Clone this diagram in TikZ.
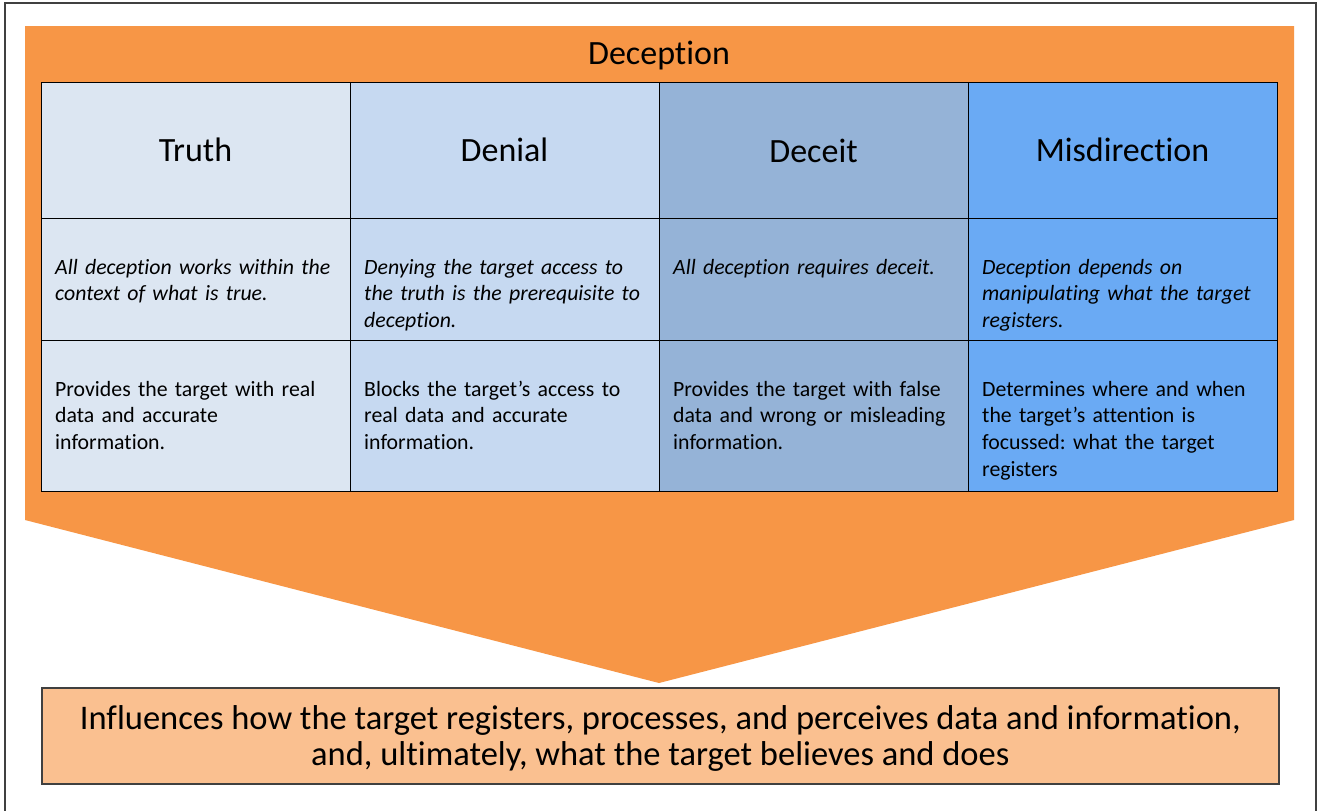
\documentclass[tikz,border=0pt]{standalone}
\usepackage{fontspec}
\setmainfont{Carlito}[Ligatures=NoCommon]
\definecolor{orangeA}{HTML}{F79646}
\definecolor{orangeB}{HTML}{FAC090}
\definecolor{cTruth}{HTML}{DCE6F2}
\definecolor{cDenial}{HTML}{C6D9F1}
\definecolor{cDeceit}{HTML}{95B3D7}
\definecolor{cMis}{HTML}{6AAAF4}
\definecolor{frameC}{HTML}{404040}
\begin{document}
\begin{tikzpicture}[x=1pt,y=-1pt,
  cell/.style={draw=black,line width=1pt,anchor=north west,minimum width=309pt,inner sep=0pt,outer sep=0pt},
  headtxt/.style={font=\fontsize{34}{40}\selectfont,inner sep=0pt},
  bodytxt/.style={anchor=base west,inner sep=0pt,text width=300pt,align=left,font=\fontsize{21.8}{26.8}\selectfont},
  quotetxt/.style={bodytxt,font=\fontsize{21.8}{26.8}\selectfont\itshape}]
\useasboundingbox (0,0) rectangle (1317,811);
\fill[white] (0,0) rectangle (1317,811);
% outer frame
\draw[frameC,line width=2pt] (4.5,811) -- (4.5,2.5) -- (1315.5,2.5) -- (1315.5,811);
% orange arrow
\fill[orangeA] (25,26) -- (1294,26) -- (1294,520) -- (659,683) -- (25,520) -- cycle;
\node[font=\fontsize{34}{40}\selectfont,inner sep=0pt] (title) at (659,56) {Deception};
% header row
\node[cell,fill=cTruth,minimum height=136pt] (h1) at (41,82) {};
\node[cell,fill=cDenial,minimum height=136pt] (h2) at (350,82) {};
\node[cell,fill=cDeceit,minimum height=136pt] (h3) at (659,82) {};
\node[cell,fill=cMis,minimum height=136pt] (h4) at (968,82) {};
\node[headtxt] at (h1.center) {Truth};
\node[headtxt] at (h2.center) {Denial};
\node[headtxt] at ([yshift=-1pt]h3.center) {Deceit};
\node[headtxt] at (h4.center) {Misdirection};
% middle row
\node[cell,fill=cTruth,minimum height=122pt] (m1) at (41,218) {};
\node[cell,fill=cDenial,minimum height=122pt] (m2) at (350,218) {};
\node[cell,fill=cDeceit,minimum height=122pt] (m3) at (659,218) {};
\node[cell,fill=cMis,minimum height=122pt] (m4) at (968,218) {};
\node[quotetxt] at (55,274) {All deception works within the\\context of what is true.};
\node[quotetxt] at (364,274) {Denying the target access to\\the truth is the prerequisite to\\deception.};
\node[quotetxt] at (673,274) {All deception requires deceit.};
\node[quotetxt] at (982,274) {Deception depends on\\manipulating what the target\\registers.};
% bottom row
\node[cell,fill=cTruth,minimum height=151pt] (b1) at (41,340) {};
\node[cell,fill=cDenial,minimum height=151pt] (b2) at (350,340) {};
\node[cell,fill=cDeceit,minimum height=151pt] (b3) at (659,340) {};
\node[cell,fill=cMis,minimum height=151pt] (b4) at (968,340) {};
\node[bodytxt] at (55,396) {Provides the target with real\\data and accurate\\information.};
\node[bodytxt] at (364,396) {Blocks the target’s access to\\real data and accurate\\information.};
\node[bodytxt] at (673,396) {Provides the target with false\\data and wrong or misleading\\information.};
\node[bodytxt] at (982,396) {Determines where and when\\the target’s attention is\\focussed:\ what the target\\registers};
% result box
\node[draw=frameC,fill=orangeB,line width=1.5pt,anchor=north west,minimum width=1237pt,minimum height=96pt,inner sep=0pt] (res) at (41,687) {};
\node[font=\fontsize{34.5}{36}\selectfont,align=center,inner sep=0pt] at ([yshift=-3pt]res.center) {Influences how the target registers, processes, and perceives data and information,\\and, ultimately, what the target believes and does};
\end{tikzpicture}
\end{document}
